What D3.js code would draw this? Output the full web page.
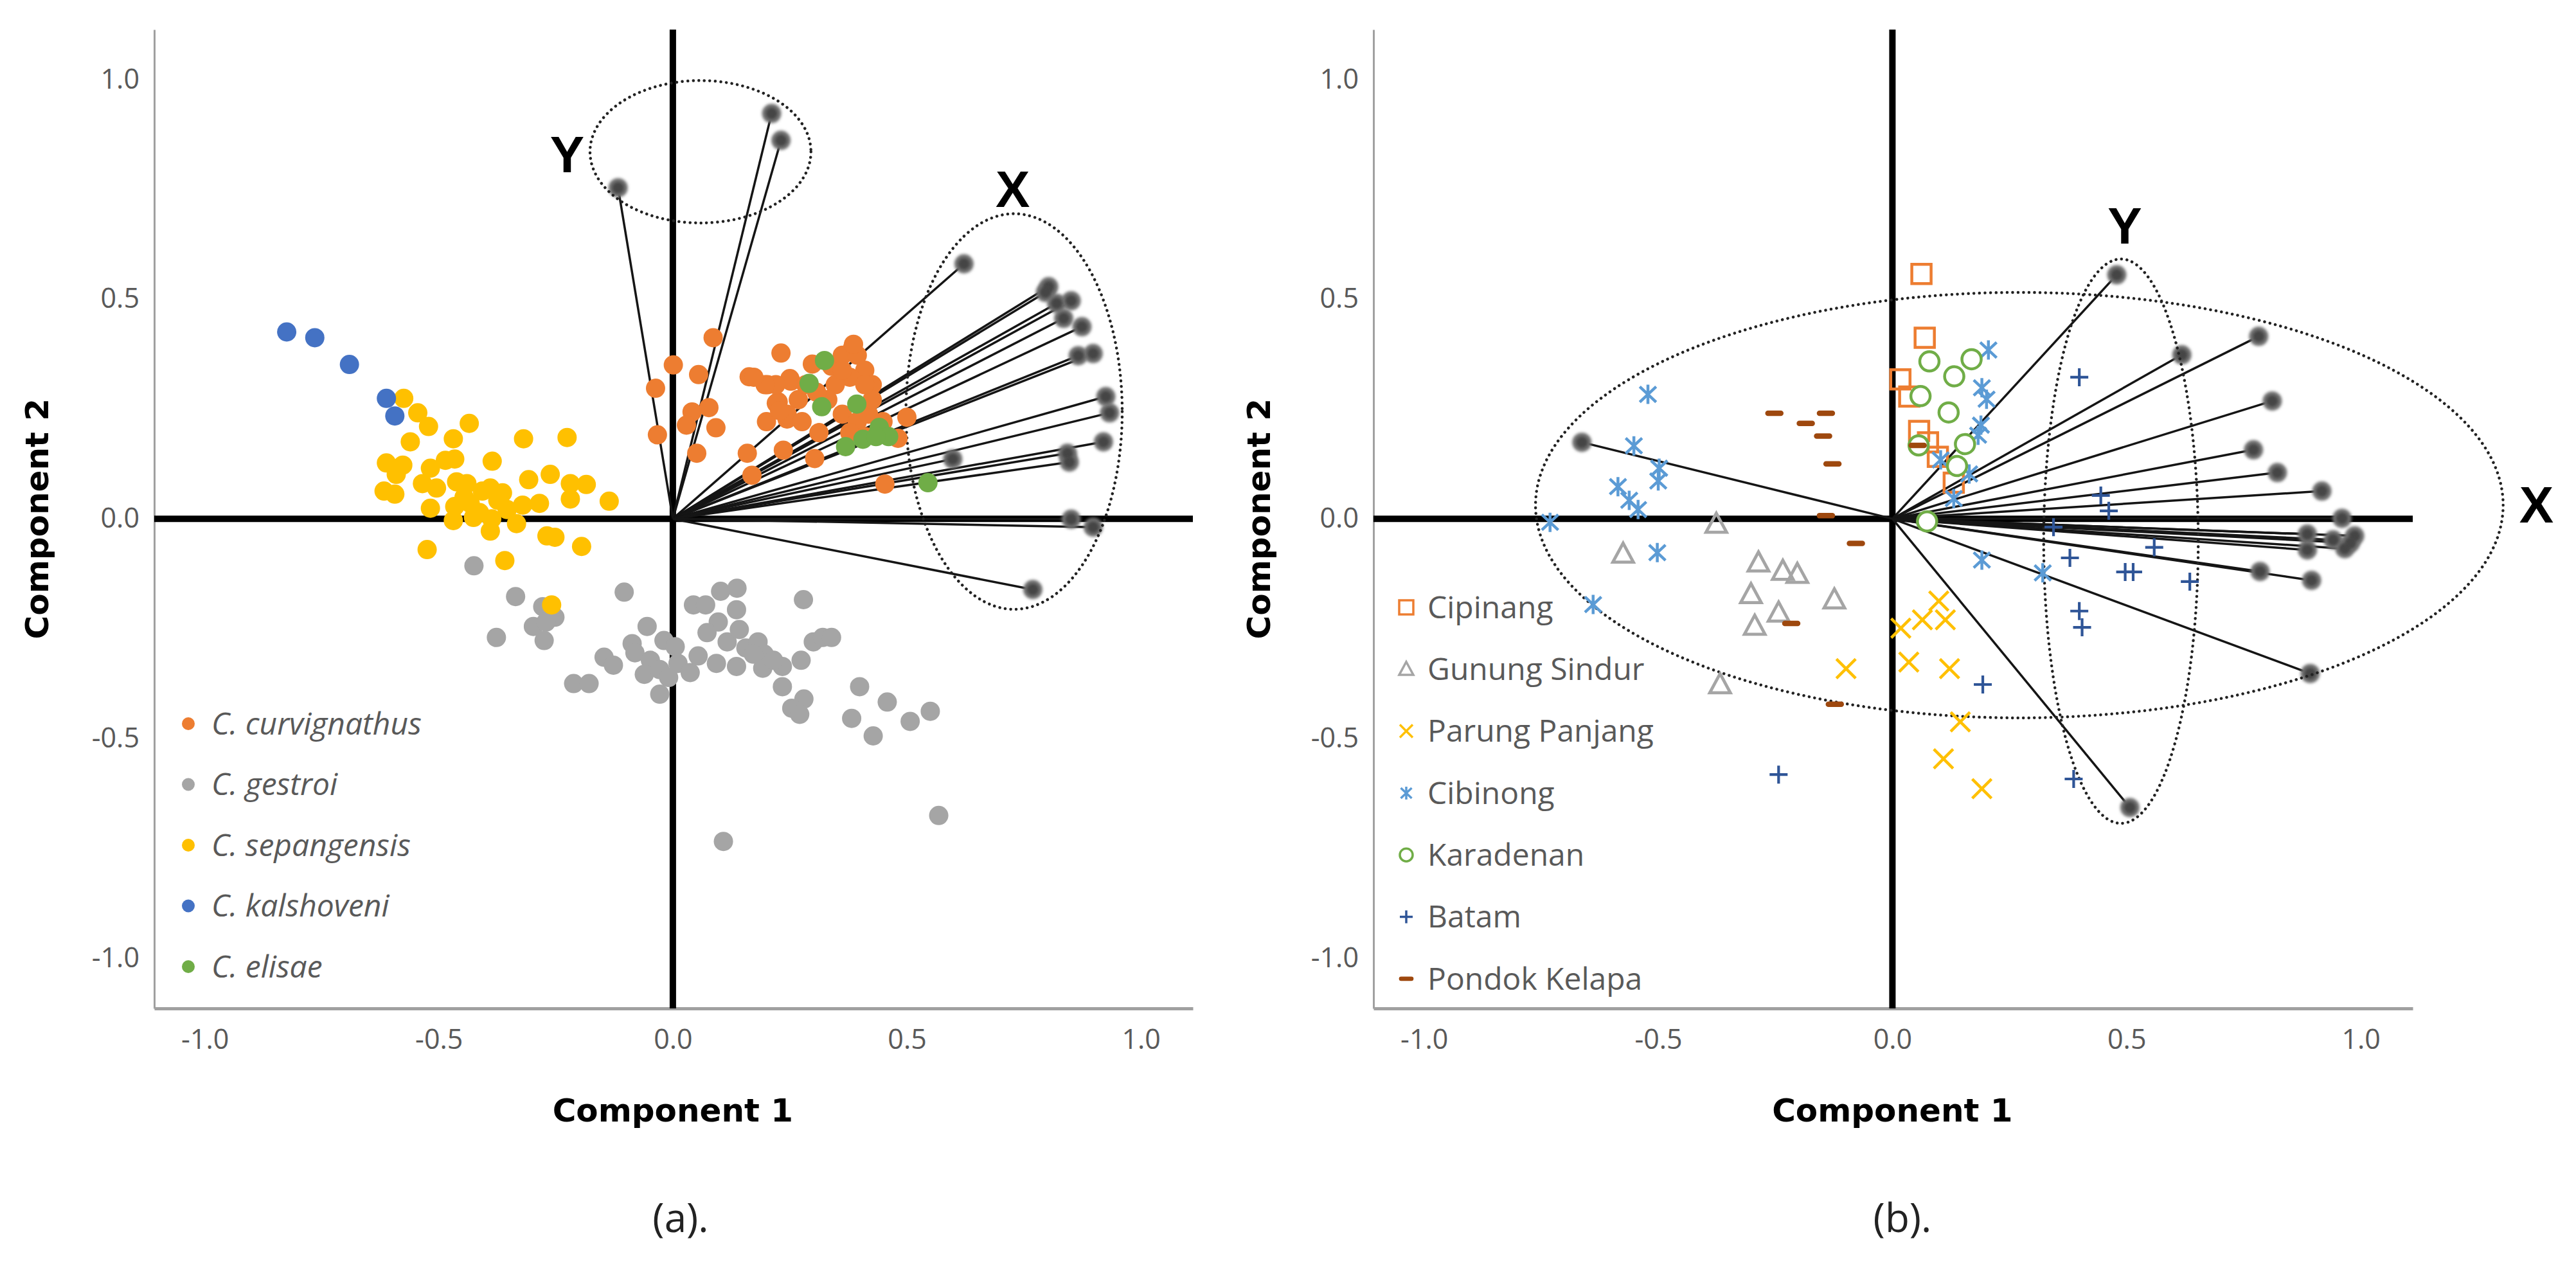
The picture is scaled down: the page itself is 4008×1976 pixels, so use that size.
<!DOCTYPE html>
<html>
<head>
<meta charset="utf-8">
<script src="https://cdn.jsdelivr.net/npm/d3@7"></script>
<style>
  body { margin: 0; background: #fff; }
  svg { display: block; }
</style>
</head>
<body>
<div id="chart"></div>
<script>
// PCA biplots: (a) species, (b) sampling sites

const W = 4008, H = 1976;

// axis ticks (both panels)
const xTicks = [-1.0, -0.5, 0.0, 0.5, 1.0];
const yTicks = [-1.0, -0.5, 0.0, 0.5, 1.0];

// ---- panel (a) data ----
const speciesNames = ["C. curvignathus", "C. gestroi", "C. sepangensis", "C. kalshoveni", "C. elisae"];

const curvignathus = [
  [0.086,0.412],[0.001,0.350],[-0.037,0.297],[0.055,0.328],[0.231,0.377],[0.163,0.323],[0.202,0.305],
  [0.250,0.319],[0.225,0.266],[0.298,0.352],[0.384,0.389],[0.200,0.221],[0.244,0.227],[0.041,0.243],
  [0.077,0.253],[0.029,0.213],[0.092,0.207],[-0.033,0.191],[0.051,0.149],[0.159,0.149],[0.169,0.099],
  [0.236,0.156],[0.303,0.137],[0.312,0.196],[0.500,0.231],[0.453,0.079],[0.481,0.183],[0.221,0.263],
  [0.252,0.313],[0.268,0.271],[0.244,0.238],[0.276,0.221],[0.339,0.347],[0.362,0.372],[0.394,0.372],
  [0.410,0.338],[0.378,0.322],[0.426,0.305],[0.347,0.305],[0.331,0.271],[0.362,0.238],[0.394,0.221],
  [0.418,0.238],[0.426,0.271],[0.441,0.204],[0.378,0.196],[0.410,0.187],[0.449,0.221],[0.284,0.305],
  [0.220,0.305],[0.197,0.305],[0.173,0.322],[0.386,0.397],[0.410,0.305],[0.362,0.338],[0.307,0.288],
  [0.228,0.246]
];
const gestroi = [
  [-0.425,-0.107],[-0.336,-0.177],[-0.104,-0.167],[-0.377,-0.270],[-0.278,-0.200],[-0.298,-0.245],
  [-0.252,-0.224],[-0.275,-0.277],[-0.271,-0.235],[-0.055,-0.245],[-0.087,-0.284],[-0.081,-0.305],
  [-0.147,-0.315],[-0.127,-0.333],[-0.212,-0.375],[-0.179,-0.375],[-0.019,-0.277],[0.005,-0.291],
  [-0.048,-0.322],[-0.061,-0.354],[-0.028,-0.343],[-0.009,-0.361],[0.011,-0.329],[0.037,-0.350],
  [-0.028,-0.399],[0.054,-0.312],[0.093,-0.329],[0.044,-0.196],[0.070,-0.196],[0.102,-0.165],
  [0.137,-0.158],[0.136,-0.207],[0.097,-0.235],[0.073,-0.259],[0.116,-0.280],[0.142,-0.252],
  [0.156,-0.294],[0.182,-0.280],[0.195,-0.308],[0.136,-0.336],[0.192,-0.340],[0.234,-0.336],
  [0.215,-0.322],[0.172,-0.308],[0.279,-0.184],[0.274,-0.322],[0.300,-0.280],[0.320,-0.270],
  [0.339,-0.270],[0.234,-0.382],[0.280,-0.410],[0.254,-0.431],[0.271,-0.445],[0.399,-0.382],
  [0.458,-0.417],[0.382,-0.454],[0.428,-0.494],[0.507,-0.461],[0.550,-0.438],[0.108,-0.734],
  [0.568,-0.675]
];
const sepangensis = [
  [-0.575,0.274],[-0.545,0.241],[-0.522,0.210],[-0.435,0.217],[-0.561,0.175],[-0.469,0.182],
  [-0.319,0.182],[-0.226,0.185],[-0.612,0.127],[-0.577,0.122],[-0.591,0.101],[-0.518,0.115],
  [-0.486,0.133],[-0.466,0.136],[-0.386,0.131],[-0.308,0.089],[-0.262,0.101],[-0.219,0.080],
  [-0.185,0.078],[-0.219,0.045],[-0.136,0.040],[-0.617,0.063],[-0.594,0.056],[-0.535,0.080],
  [-0.505,0.070],[-0.518,0.024],[-0.462,0.084],[-0.440,0.080],[-0.407,0.063],[-0.390,0.070],
  [-0.364,0.059],[-0.466,0.028],[-0.433,0.035],[-0.413,0.014],[-0.387,0.000],[-0.354,0.021],
  [-0.321,0.031],[-0.285,0.035],[-0.469,-0.004],[-0.426,0.003],[-0.390,-0.028],[-0.334,-0.011],
  [-0.269,-0.039],[-0.252,-0.042],[-0.195,-0.063],[-0.525,-0.070],[-0.359,-0.095],[-0.259,-0.196],
  [-0.374,0.042],[-0.446,0.049]
];
const kalshoveni = [[-0.825,0.425],[-0.765,0.412],[-0.691,0.351],[-0.612,0.274],[-0.594,0.234]];
const elisae = [
  [0.324,0.360],[0.291,0.308],[0.318,0.255],[0.393,0.261],[0.441,0.208],[0.369,0.164],
  [0.406,0.181],[0.461,0.187],[0.434,0.187],[0.545,0.082]
];

// variable loadings, panel (a)
const loadingsA = [
  [-0.117,0.753],[0.211,0.922],[0.231,0.861],
  [0.622,0.580],[0.803,0.528],[0.796,0.515],[0.851,0.496],[0.820,0.490],[0.835,0.456],
  [0.874,0.437],[0.898,0.376],[0.866,0.371],[0.925,0.278],[0.933,0.241],[0.920,0.175],
  [0.843,0.149],[0.847,0.129],[0.598,0.136],[0.851,-0.001],[0.898,-0.019],[0.769,-0.161]
];
// grouping ellipses (centre x, centre y, radius x, radius y) and their labels
const groupsA = [
  {name: "Y", cx: 0.059, cy: 0.835, rx: 0.236, ry: 0.162, lx: -0.226, ly: 0.830},
  {name: "X", cx: 0.729, cy: 0.244, rx: 0.231, ry: 0.450, lx: 0.726, ly: 0.751}
];

// ---- panel (b) data ----
const siteNames = ["Cipinang", "Gunung Sindur", "Parung Panjang", "Cibinong", "Karadenan", "Batam", "Pondok Kelapa"];

const cipinang = [[0.062,0.557],[0.069,0.412],[0.017,0.317],[0.036,0.278],[0.057,0.200],[0.076,0.174],[0.097,0.141],[0.131,0.082]];
const gunungSindur = [[-0.376,-0.012],[-0.575,-0.080],[-0.286,-0.100],[-0.234,-0.119],[-0.203,-0.126],[-0.302,-0.172],[-0.243,-0.214],[-0.294,-0.244],[-0.368,-0.377],[-0.124,-0.184]];
const parungPanjang = [[0.099,-0.187],[0.064,-0.230],[0.113,-0.230],[0.018,-0.249],[-0.099,-0.341],[0.035,-0.326],[0.122,-0.341],[0.145,-0.462],[0.109,-0.546],[0.191,-0.614]];
const cibinong = [
  [0.205,0.384],[0.191,0.298],[0.201,0.272],[0.189,0.213],[0.183,0.190],[0.103,0.134],[0.164,0.102],
  [0.131,0.046],[0.191,-0.094],[0.321,-0.123],[-0.522,0.283],[-0.552,0.166],[-0.498,0.115],
  [-0.500,0.086],[-0.586,0.073],[-0.562,0.042],[-0.543,0.021],[-0.731,-0.008],[-0.502,-0.077],
  [-0.639,-0.195]
];
const karadenan = [[0.079,0.358],[0.169,0.363],[0.132,0.324],[0.060,0.279],[0.120,0.242],[0.155,0.170],[0.056,0.167],[0.138,0.120],[0.074,-0.006]];
const batam = [
  [0.399,0.322],[0.445,0.053],[0.462,0.018],[0.344,-0.019],[0.559,-0.065],[0.379,-0.089],[0.497,-0.121],
  [0.514,-0.121],[0.635,-0.143],[0.399,-0.210],[0.405,-0.247],[0.193,-0.377],[-0.243,-0.582],[0.387,-0.592]
];
const pondokKelapa = [[-0.252,0.240],[-0.142,0.240],[-0.185,0.217],[-0.148,0.188],[-0.128,0.125],[0.054,0.167],[-0.142,0.007],[-0.078,-0.056],[-0.216,-0.238],[-0.123,-0.422]];

const loadingsB = [
  [0.479,0.555],[0.618,0.373],[0.782,0.415],[0.811,0.268],[0.771,0.157],[0.822,0.105],[0.917,0.063],
  [0.960,0.001],[0.987,-0.039],[0.966,-0.068],[0.886,-0.071],[0.886,-0.035],[0.941,-0.048],
  [0.978,-0.055],[0.785,-0.120],[0.895,-0.140],[0.892,-0.352],[0.507,-0.657],[-0.663,0.174]
];
const groupsB = [
  {name: "Y", cx: 0.488, cy: -0.051, rx: 0.165, ry: 0.642, lx: 0.496, ly: 0.668},
  {name: "X", cx: 0.271, cy: 0.031, rx: 1.033, ry: 0.484, lx: 1.375, ly: 0.034}
];

// styles
const speciesColors = ["#ED7D31", "#A5A5A5", "#FFC000", "#4472C4", "#70AD47"];
const siteStyles = [
  {shape: "square",   color: "#ED7D31"},
  {shape: "triangle", color: "#A5A5A5"},
  {shape: "times",    color: "#FFC000"},
  {shape: "asterisk", color: "#5B9BD5"},
  {shape: "circle",   color: "#70AD47"},
  {shape: "plus",     color: "#2F5597"},
  {shape: "dash",     color: "#9E480E"}
];

const speciesData = [curvignathus, gestroi, sepangensis, kalshoveni, elisae];
const siteData = [cipinang, gunungSindur, parungPanjang, cibinong, karadenan, batam, pondokKelapa];

// shared data extent of the plot frame
const xDomain = [-1.108, 1.111];
const yDomain = [-1.114, 1.113];

const svg = d3.select("#chart").append("svg")
  .attr("width", W).attr("height", H)
  .attr("viewBox", [0, 0, W, H]);

svg.append("rect").attr("width", W).attr("height", H).attr("fill", "#fff");

const defs = svg.append("defs");
defs.append("filter").attr("id", "soft").attr("x", "-50%").attr("y", "-50%").attr("width", "200%").attr("height", "200%")
  .append("feGaussianBlur").attr("stdDeviation", 2.2);

function markerPath(shape, s) {
  switch (shape) {
    case "square":   return `M${-s},${-s}H${s}V${s}H${-s}Z`;
    case "triangle": return `M0,${-s * 1.05}L${s},${s * 0.8}H${-s}Z`;
    case "times":    return `M${-s},${-s}L${s},${s}M${-s},${s}L${s},${-s}`;
    case "asterisk": return `M${-s * 0.85},${-s * 0.8}L${s * 0.85},${s * 0.8}M${-s * 0.85},${s * 0.8}L${s * 0.85},${-s * 0.8}M0,${-s}V${s}`;
    case "plus":     return `M${-s},0H${s}M0,${-s}V${s}`;
    case "circle":   return `M${s},0A${s},${s} 0 1,1 ${-s},0A${s},${s} 0 1,1 ${s},0Z`;
    case "dash":     return `M${-s},0H${s}`;
  }
}

function drawMarker(g, shape, color, s, x, y) {
  const p = g.append("path")
    .attr("transform", `translate(${x},${y})`)
    .attr("d", markerPath(shape, s))
    .attr("stroke", color)
    .attr("fill", shape === "circle" ? "#fff" : "none")
    .attr("stroke-width", shape === "dash" ? s * 0.85 : Math.max(3.5, s * 0.3));
  if (shape === "dash") p.attr("stroke-linecap", "round");
  return p;
}

function panel(opts) {
  const {left, right, top, bottom} = opts;
  const g = svg.append("g");
  const x = d3.scaleLinear().domain(xDomain).range([left, right]);
  const y = d3.scaleLinear().domain(yDomain).range([bottom, top]);

  // frame axes (left & bottom, grey)
  g.append("g")
    .attr("transform", `translate(0,${bottom})`)
    .call(d3.axisBottom(x).tickValues(xTicks).tickFormat(d => d.toFixed(1)).tickSize(0).tickPadding(32))
    .call(a => a.select(".domain").attr("stroke", "#a0a0a0").attr("stroke-width", 5))
    .call(a => a.selectAll("text").attr("font-family", "Open Sans").attr("font-size", 43).attr("fill", "#595959"));

  g.append("g")
    .attr("transform", `translate(${left},0)`)
    .call(d3.axisLeft(y).tickValues(yTicks).tickFormat(d => d.toFixed(1)).tickSize(0).tickPadding(23))
    .call(a => a.select(".domain").attr("stroke", "#a0a0a0").attr("stroke-width", 3))
    .call(a => a.selectAll("text").attr("font-family", "Open Sans").attr("font-size", 43).attr("fill", "#595959"));

  // zero lines
  g.append("line").attr("x1", x(0)).attr("x2", x(0)).attr("y1", top).attr("y2", bottom)
    .attr("stroke", "#000").attr("stroke-width", 10);
  g.append("line").attr("x1", left).attr("x2", right).attr("y1", y(0)).attr("y2", y(0))
    .attr("stroke", "#000").attr("stroke-width", 10);

  // axis titles
  g.append("text")
    .attr("x", (x(0))).attr("y", 1727).attr("dy", "0.35em")
    .attr("text-anchor", "middle")
    .attr("font-family", "DejaVu Sans").attr("font-weight", "bold").attr("font-size", 50)
    .text("Component 1");
  g.append("text")
    .attr("transform", `translate(${opts.titleX},${y(0)}) rotate(-90)`)
    .attr("dy", "0.35em")
    .attr("text-anchor", "middle")
    .attr("font-family", "DejaVu Sans").attr("font-weight", "bold").attr("font-size", 50)
    .text("Component 2");

  // panel caption
  g.append("text")
    .attr("x", opts.capX).attr("y", 1895).attr("dy", "0.35em")
    .attr("text-anchor", "middle")
    .attr("font-family", "Open Sans").attr("font-size", 62).attr("fill", "#222")
    .text(opts.caption);

  // loading vectors
  const lg = g.append("g");
  lg.selectAll("line").data(opts.loadings).join("line")
    .attr("x1", x(0)).attr("y1", y(0))
    .attr("x2", d => x(d[0])).attr("y2", d => y(d[1]))
    .attr("stroke", "#151515").attr("stroke-width", 3.5);
  lg.selectAll("circle.halo").data(opts.loadings).join("circle").attr("class", "halo")
    .attr("cx", d => x(d[0])).attr("cy", d => y(d[1])).attr("r", 15)
    .attr("fill", "#707070").attr("filter", "url(#soft)");
  lg.selectAll("circle.core").data(opts.loadings).join("circle").attr("class", "core")
    .attr("cx", d => x(d[0])).attr("cy", d => y(d[1])).attr("r", 9)
    .attr("fill", "#454545").attr("filter", "url(#soft)");

  // group ellipses and labels
  g.selectAll("ellipse").data(opts.groups).join("ellipse")
    .attr("cx", d => x(d.cx)).attr("cy", d => y(d.cy))
    .attr("rx", d => x(d.rx) - x(0)).attr("ry", d => y(0) - y(d.ry))
    .attr("fill", "none").attr("stroke", "#222").attr("stroke-width", 4.5)
    .attr("stroke-dasharray", "0.1 8.5").attr("stroke-linecap", "round");
  g.selectAll("text.grp").data(opts.groups).join("text").attr("class", "grp")
    .attr("x", d => x(d.lx)).attr("y", d => y(d.ly)).attr("dy", "0.36em")
    .attr("text-anchor", "middle")
    .attr("font-family", "Liberation Sans").attr("font-weight", "bold").attr("font-size", 80)
    .text(d => d.name);

  return {g, x, y};
}

// ---------- panel (a) ----------
const A = panel({left: 240, right: 1856, top: 46, bottom: 1569, titleX: 57, capX: 1059,
  caption: "(a).", loadings: loadingsA, groups: groupsA});

const ptsA = A.g.append("g");
speciesData.forEach((arr, i) => {
  ptsA.append("g").selectAll("circle").data(arr).join("circle")
    .attr("cx", d => A.x(d[0])).attr("cy", d => A.y(d[1])).attr("r", 15)
    .attr("fill", speciesColors[i]);
});

const legA = A.g.append("g");
speciesNames.forEach((name, i) => {
  const yy = 1126 + i * 94.5;
  legA.append("circle").attr("cx", 293).attr("cy", yy).attr("r", 10).attr("fill", speciesColors[i]);
  legA.append("text").attr("x", 329).attr("y", yy).attr("dy", "0.35em")
    .attr("font-family", "Open Sans").attr("font-style", "italic").attr("font-size", 48)
    .attr("fill", "#595959").text(name);
});

// ---------- panel (b) ----------
const B = panel({left: 2137, right: 3754, top: 46, bottom: 1569, titleX: 1958, capX: 2960,
  caption: "(b).", loadings: loadingsB, groups: groupsB});

const ptsB = B.g.append("g");
siteData.forEach((arr, i) => {
  const st = siteStyles[i];
  const s = {square: 15, triangle: 16, times: 15, asterisk: 15, circle: 15, plus: 14, dash: 10}[st.shape];
  arr.forEach(d => drawMarker(ptsB, st.shape, st.color, s, B.x(d[0]), B.y(d[1])));
});

const legB = B.g.append("g");
siteNames.forEach((name, i) => {
  const yy = 945 + i * 96.3;
  const st = siteStyles[i];
  const s = {square: 11, triangle: 11, times: 10, asterisk: 10, circle: 10, plus: 10, dash: 8}[st.shape];
  drawMarker(legB, st.shape, st.color, s, 2188, yy);
  legB.append("text").attr("x", 2221).attr("y", yy).attr("dy", "0.35em")
    .attr("font-family", "Open Sans").attr("font-size", 48)
    .attr("fill", "#595959").text(name);
});
</script>
</body>
</html>
